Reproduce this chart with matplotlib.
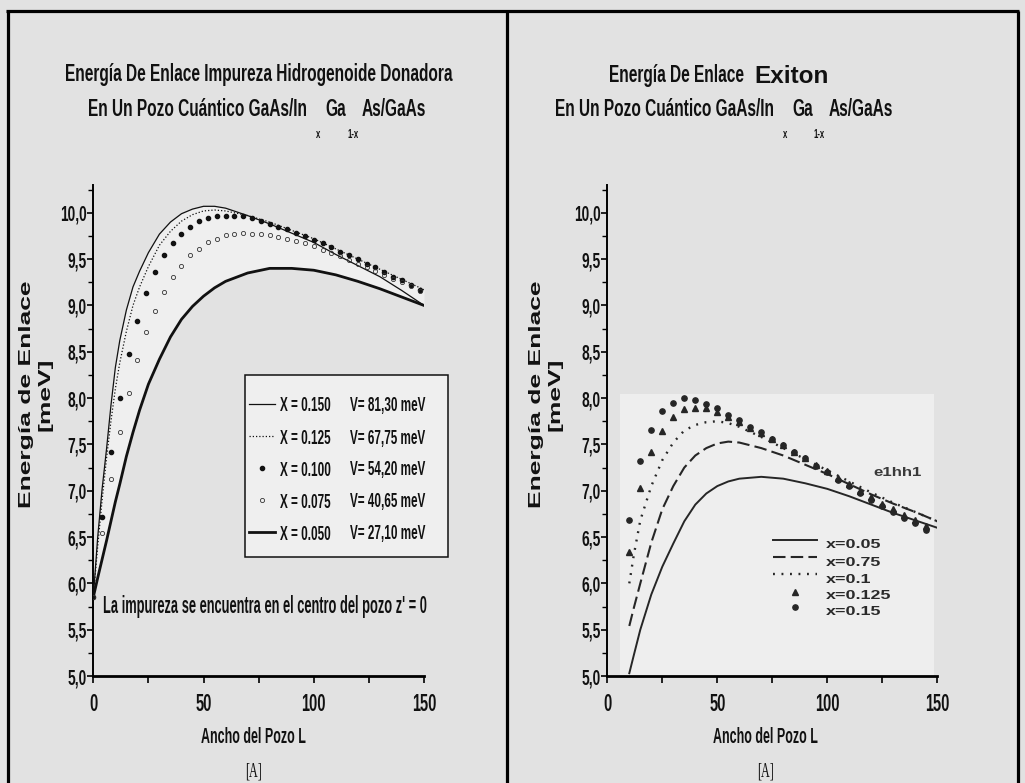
import matplotlib
matplotlib.use("Agg")
import matplotlib.pyplot as plt
from matplotlib import font_manager
from matplotlib.font_manager import FontProperties
from matplotlib.lines import Line2D
from matplotlib.patches import Rectangle
from matplotlib.ticker import FixedLocator
import numpy as np

# ---------------- Donor impurity binding energy (left) ----------------
L_line = [0, 2, 4, 6, 8, 10, 12, 15, 18, 21, 25, 30, 35, 40, 45, 50, 55, 60,
          70, 80, 90, 100, 110, 120, 130, 140, 150]
E_x150 = [5.85, 6.50, 7.02, 7.45, 7.92, 8.33, 8.62, 8.95, 9.20, 9.37, 9.57, 9.77,
          9.90, 9.99, 10.04, 10.07, 10.07, 10.05, 9.97, 9.88, 9.78, 9.68, 9.55,
          9.43, 9.31, 9.16, 9.00]
E_x125 = [5.85, 6.40, 6.90, 7.35, 7.75, 8.10, 8.38, 8.72, 9.00, 9.20, 9.42, 9.65,
          9.80, 9.91, 9.98, 10.02, 10.03, 10.02, 9.97, 9.90, 9.81, 9.72, 9.61,
          9.50, 9.39, 9.28, 9.17]
E_x050 = [5.85, 6.06, 6.26, 6.46, 6.67, 6.88, 7.07, 7.37, 7.63, 7.87, 8.15, 8.42,
          8.66, 8.85, 8.99, 9.10, 9.19, 9.26, 9.35, 9.40, 9.40, 9.38, 9.33, 9.26,
          9.18, 9.09, 9.00]

L_pts = [0, 4, 8, 12, 16, 20, 24, 28, 32, 36, 40, 44, 48, 52, 56, 60, 64, 68, 72,
         76, 80, 84, 88, 92, 96, 100, 104, 108, 112, 116, 120, 124, 128, 132, 136,
         140, 144, 148]
E_x100 = [5.85, 6.72, 7.42, 8.00, 8.48, 8.83, 9.13, 9.36, 9.54, 9.67, 9.77, 9.85,
          9.91, 9.94, 9.96, 9.97, 9.97, 9.96, 9.94, 9.91, 9.88, 9.85, 9.82, 9.78,
          9.75, 9.71, 9.67, 9.63, 9.58, 9.54, 9.50, 9.45, 9.41, 9.36, 9.31, 9.27,
          9.22, 9.17]
E_x075 = [5.85, 6.54, 7.13, 7.63, 8.06, 8.41, 8.71, 8.94, 9.14, 9.31, 9.43, 9.54,
          9.61, 9.68, 9.72, 9.76, 9.77, 9.78, 9.77, 9.77, 9.76, 9.74, 9.72, 9.70,
          9.67, 9.64, 9.60, 9.57, 9.53, 9.49, 9.45, 9.41, 9.37, 9.33, 9.29, 9.25,
          9.21, 9.16]

left_x_labels = ["X = 0.150", "X = 0.125", "X = 0.100", "X = 0.075", "X = 0.050"]
left_v_labels = ["V= 81,30 meV", "V= 67,75 meV", "V= 54,20 meV", "V= 40,65 meV",
                 "V= 27,10 meV"]

# ---------------- Exciton binding energy e1hh1 (right) ----------------
L_exc = [10, 12, 15, 20, 25, 30, 35, 40, 45, 50, 55, 60, 70, 80, 90, 100, 110,
         120, 130, 140, 150]
Ex_005 = [5.03, 5.22, 5.50, 5.88, 6.18, 6.43, 6.67, 6.85, 6.97, 7.05, 7.10, 7.13,
          7.15, 7.13, 7.08, 7.02, 6.94, 6.85, 6.76, 6.68, 6.60]
Ex_075 = [5.54, 5.73, 6.00, 6.44, 6.80, 7.05, 7.25, 7.38, 7.46, 7.51, 7.53, 7.52,
          7.46, 7.38, 7.28, 7.18, 7.07, 6.96, 6.86, 6.77, 6.67]
Ex_010 = [6.00, 6.30, 6.68, 7.05, 7.33, 7.52, 7.65, 7.71, 7.74, 7.75, 7.73, 7.69,
          7.58, 7.46, 7.34, 7.22, 7.10, 6.98, 6.87, 6.77, 6.67]

L_exc_pts = [10, 15, 20, 25, 30, 35, 40, 45, 50, 55, 60, 65, 70, 75, 80, 85, 90,
             95, 100, 105, 110, 115, 120, 125, 130, 135, 140, 145]
Ex_0125 = [6.34, 7.03, 7.42, 7.65, 7.80, 7.88, 7.89, 7.89, 7.85, 7.80, 7.74, 7.68,
           7.62, 7.56, 7.49, 7.42, 7.35, 7.28, 7.21, 7.14, 7.07, 7.00, 6.93, 6.86,
           6.80, 6.74, 6.68, 6.62]
Ex_015 = [6.68, 7.32, 7.66, 7.86, 7.95, 8.00, 7.98, 7.94, 7.89, 7.82, 7.76, 7.69,
          7.63, 7.56, 7.49, 7.42, 7.35, 7.27, 7.20, 7.12, 7.05, 6.97, 6.90, 6.83,
          6.77, 6.71, 6.65, 6.58]

right_labels = ["x=0.05", "x=0.75", "x=0.1", "x=0.125", "x=0.15"]

x_ticks = [0, 50, 100, 150]
x_tick_labels = ["0", "50", "100", "150"]
x_minor = [25, 75, 125]
y_ticks = [5.0, 5.5, 6.0, 6.5, 7.0, 7.5, 8.0, 8.5, 9.0, 9.5, 10.0]
y_tick_labels = ["5,0", "5,5", "6,0", "6,5", "7,0", "7,5", "8,0", "8,5", "9,0",
                 "9,5", "10,0"]
y_minor = [5.25, 5.75, 6.25, 6.75, 7.25, 7.75, 8.25, 8.75, 9.25, 9.75, 10.25]


# ---------------- condensed / expanded font faces ----------------
def build_face(src_family, weight, sx, tag):
    """Write a horizontally rescaled copy of an installed face and register it."""
    try:
        from fontTools.ttLib import TTFont
        path = font_manager.findfont(FontProperties(family=src_family, weight=weight),
                                     fallback_to_default=False)
        f = TTFont(path)
        glyf, hmtx = f["glyf"], f["hmtx"]
        order = f.getGlyphOrder()
        for name in order:
            g = glyf[name]
            if g.isComposite():
                for c in g.components:
                    c.x = int(round(c.x * sx))
            elif g.numberOfContours > 0:
                g.coordinates.scale((sx, 1.0))
                g.coordinates.toInt()
        for name in order:
            adv, lsb = hmtx[name]
            hmtx[name] = (int(round(adv * sx)), int(round(lsb * sx)))
        for t in ("hdmx", "LTSH", "VDMX", "kern", "GPOS"):
            if t in f:
                del f[t]
        bold = weight == "bold"
        for rec in f["name"].names:
            if rec.nameID in (1, 16):
                rec.string = tag
            elif rec.nameID == 4:
                rec.string = tag + (" Bold" if bold else "")
            elif rec.nameID == 6:
                rec.string = tag + ("-Bold" if bold else "")
        out = tag + ".ttf"
        f.save(out)
        font_manager.fontManager.addfont(out)
        return [tag, src_family, "DejaVu Sans"]
    except Exception:
        return [src_family, "DejaVu Sans"]


F_TITLE = build_face("Liberation Sans", "bold", 0.655, "SqzTitle")
F_TEXT = build_face("Liberation Sans", "bold", 0.56, "SqzText")
F_TICK = build_face("Liberation Sans", "bold", 0.64, "SqzTick")
F_YLAB = build_face("Liberation Sans", "bold", 1.65, "WideLabel")
F_SCAN = build_face("Liberation Sans", "bold", 1.35, "WideScan")
F_SERIF = build_face("Liberation Serif", "normal", 0.60, "SqzSerif")
F_ARIALB = ["Liberation Sans", "DejaVu Sans"]

BG = "#e2e2e2"
INK = "#111111"
SCAN_INK = "#262626"

W, H = 1025, 783
fig = plt.figure(figsize=(W / 100, H / 100), dpi=100, facecolor=BG)


def fx(px):
    return px / W


def fy(py):
    return 1 - py / H


def text(px, py, s, fam, size, weight="bold", **kw):
    kw.setdefault("ha", "left")
    kw.setdefault("va", "baseline")
    kw.setdefault("color", INK)
    return fig.text(fx(px), fy(py), s, family=fam, fontsize=size,
                    fontweight=weight, **kw)


def make_axes(x0, x1):
    ax = fig.add_axes([fx(x0), fy(676), (x1 - x0) / W, (676 - 185) / H])
    ax.set_facecolor("none")
    ax.set_xlim(0, 150)
    ax.set_ylim(5.0, 10.3)
    for s in ("top", "right"):
        ax.spines[s].set_visible(False)
    ax.spines["left"].set_linewidth(1.4)
    ax.spines["bottom"].set_linewidth(2.0)
    ax.set_xticks(x_ticks)
    ax.set_xticklabels(x_tick_labels, family=F_TICK, fontsize=16.5,
                       fontweight="bold", color=INK)
    ax.xaxis.set_minor_locator(FixedLocator(x_minor))
    ax.set_yticks(y_ticks)
    ax.set_yticklabels(y_tick_labels, family=F_TICK, fontsize=15.5,
                       fontweight="bold", color=INK)
    ax.yaxis.set_minor_locator(FixedLocator(y_minor))
    ax.tick_params(axis="y", which="major", direction="out", length=4, width=1.2,
                   pad=0.5)
    ax.tick_params(axis="y", which="minor", direction="out", length=3.5, width=1.0)
    ax.tick_params(axis="x", which="both", direction="out", length=5, width=1.2,
                   pad=7.5)
    return ax


# ---------------- left panel ----------------
ax1 = make_axes(93.3, 424.0)
upper = np.maximum(E_x150, E_x125)
ax1.fill_between(L_line, E_x050, upper, color="#efefef", lw=0, zorder=1)
ax1.plot(L_line, E_x150, color=INK, lw=0.9, zorder=3)
ax1.plot(L_line, E_x125, color=INK, lw=0.9, ls=(0, (1, 1.6)), zorder=3)
ax1.plot(L_pts, E_x100, ls="none", marker="o", ms=3.0, mfc=INK, mec=INK, zorder=4)
ax1.plot(L_pts, E_x075, ls="none", marker="o", ms=3.0, mfc="none", mec="#333333",
         mew=0.6, zorder=4)
ax1.plot(L_line, E_x050, color=INK, lw=2.0, zorder=3)

# legend box of the left panel
fig.add_artist(Rectangle((fx(245), fy(557)), (448 - 245) / W, (557 - 375) / H,
                         transform=fig.transFigure, facecolor="#efefef",
                         edgecolor=INK, lw=1.1))
row_y = [404, 436, 468, 500, 532]
hx0, hx1, hxm = 249, 275, 262
left_handles = [dict(color=INK, lw=0.9),
                dict(color=INK, lw=0.9, ls=(0, (1, 1.6))),
                dict(ls="none", marker="o", ms=3.0, mfc=INK, mec=INK),
                dict(ls="none", marker="o", ms=3.0, mfc="none", mec="#333333",
                     mew=0.6),
                dict(color=INK, lw=2.0)]
for ry, st, lx, lv in zip(row_y, left_handles, left_x_labels, left_v_labels):
    if st.get("ls") == "none":
        fig.add_artist(Line2D([fx(hxm)], [fy(ry)], transform=fig.transFigure, **st))
    else:
        fig.add_artist(Line2D([fx(hx0), fx(hx1)], [fy(ry), fy(ry)],
                              transform=fig.transFigure, **st))
    text(280, ry + 7.5, lx, F_TEXT, 15)
    text(350, ry + 7.5, lv, F_TEXT, 15)

text(103, 612.5, "La impureza se encuentra en el centro del pozo z' = 0", F_TEXT,
     16.5)

# ---------------- right panel ----------------
ax2 = make_axes(607.3, 937.3)
ax2.add_patch(Rectangle((5.8, 5.0), 142.8, 3.04, facecolor="#eeeeee",
                        edgecolor="none", zorder=0))
st005 = dict(color=SCAN_INK, lw=1.4)
st075 = dict(color=SCAN_INK, lw=1.5, ls=(0, (6, 2.5)))
st010 = dict(color=SCAN_INK, lw=1.7, ls=(0, (0.8, 2.8)))
st0125 = dict(ls="none", marker="^", ms=3.8, mfc=SCAN_INK, mec=SCAN_INK)
st015 = dict(ls="none", marker="o", ms=3.8, mfc=SCAN_INK, mec=SCAN_INK)
ax2.plot(L_exc, Ex_005, zorder=3, **st005)
ax2.plot(L_exc, Ex_075, zorder=3, **st075)
ax2.plot(L_exc, Ex_010, zorder=3, **st010)
ax2.plot(L_exc_pts, Ex_0125, zorder=4, **st0125)
ax2.plot(L_exc_pts, Ex_015, zorder=4, **st015)

# legend of the right panel
r_handle_y = [540, 557, 574, 591.5, 606.5]
r_text_y = [548.3, 566, 582.7, 599.3, 615]
for hy, ty, st, lab in zip(r_handle_y, r_text_y, [st005, st075, st010, st0125, st015],
                           right_labels):
    if st.get("ls") == "none":
        fig.add_artist(Line2D([fx(795)], [fy(hy)], transform=fig.transFigure, **st))
    else:
        fig.add_artist(Line2D([fx(773), fx(817)], [fy(hy), fy(hy)],
                              transform=fig.transFigure, **st))
    text(826, ty, lab, F_SCAN, 9.5, color="#2a2a2a")
text(873, 476, "e1hh1", F_SCAN, 9, color="#3a3a3a")

# ---------------- axis labels ----------------
for cx in (36, 545.5):
    text(cx, 394.5, "Energía de Enlace\n[meV]", F_YLAB, 11.5,
         rotation=90, ha="center", va="center", multialignment="center",
         linespacing=1.3)

for cx in (253, 765.8):
    text(cx, 743, "Ancho del Pozo L", F_TEXT, 16, ha="center")
    text(cx, 777, "[A]", F_SERIF, 14.5, weight="normal", ha="center")

# ---------------- titles ----------------
TS = 17
SUB = 8.5
text(258.5, 81, "Energía De Enlace Impureza Hidrogenoide Donadora", F_TITLE, TS,
     ha="center")
text(609, 82, "Energía De Enlace", F_TITLE, TS)
text(754, 83, "Exiton", F_ARIALB, 17.5)

for dx in (0, 467):
    text(88 + dx, 116, "En Un Pozo Cuántico GaAs/In", F_TITLE, TS)
    text(316 + dx, 138, "x", F_TITLE, SUB)
    text(325 + dx, 116, "Ga", F_TITLE, TS)
    text(347 + dx, 138, "1-x", F_TITLE, SUB)
    text(362 + dx, 116, "As/GaAs", F_TITLE, TS)

# ---------------- panel frame ----------------
frame_kw = dict(transform=fig.transFigure, color="black", lw=2.3,
                solid_capstyle="butt")
fig.add_artist(Line2D([fx(6), fx(1019)], [fy(11), fy(11)], **frame_kw))
fig.add_artist(Line2D([fx(7.5), fx(7.5)], [fy(11), 0], **frame_kw))
fig.add_artist(Line2D([fx(506.5), fx(506.5)], [fy(11), 0], **frame_kw))
fig.add_artist(Line2D([fx(1018), fx(1018)], [fy(11), 0], **frame_kw))

fig.savefig("out.png", dpi=100, facecolor=BG)
